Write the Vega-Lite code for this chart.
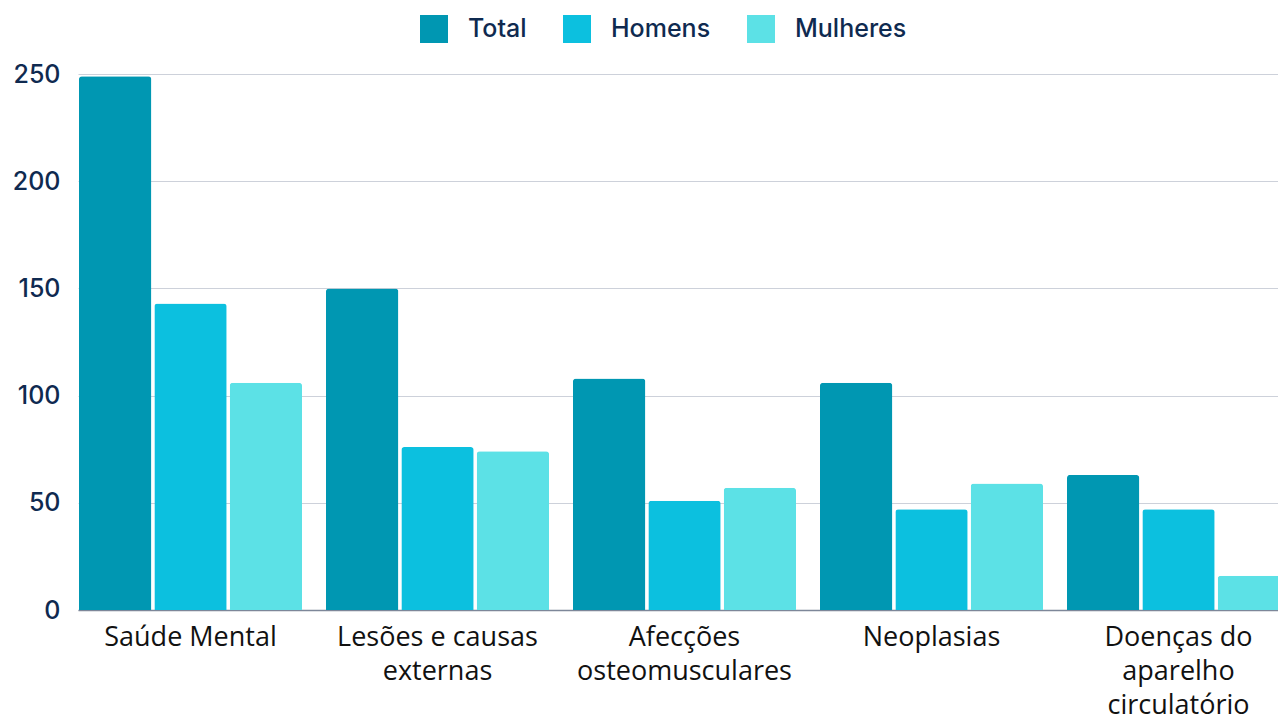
{
  "$schema": "https://vega.github.io/schema/vega-lite/v6.json",
  "autosize": {"type": "none"},
  "padding": {"left": 78, "top": 74, "right": 0, "bottom": 110},
  "width": 1213,
  "height": 536,
  "background": "#ffffff",
  "data": {
    "values": [
      {"categoria": "Saúde Mental", "grupo": "Total", "valor": 249},
      {"categoria": "Saúde Mental", "grupo": "Homens", "valor": 143},
      {"categoria": "Saúde Mental", "grupo": "Mulheres", "valor": 106},
      {"categoria": "Lesões e causas externas", "grupo": "Total", "valor": 150},
      {"categoria": "Lesões e causas externas", "grupo": "Homens", "valor": 76},
      {"categoria": "Lesões e causas externas", "grupo": "Mulheres", "valor": 74},
      {"categoria": "Afecções osteomusculares", "grupo": "Total", "valor": 108},
      {"categoria": "Afecções osteomusculares", "grupo": "Homens", "valor": 51},
      {"categoria": "Afecções osteomusculares", "grupo": "Mulheres", "valor": 57},
      {"categoria": "Neoplasias", "grupo": "Total", "valor": 106},
      {"categoria": "Neoplasias", "grupo": "Homens", "valor": 47},
      {"categoria": "Neoplasias", "grupo": "Mulheres", "valor": 59},
      {"categoria": "Doenças do aparelho circulatório", "grupo": "Total", "valor": 63},
      {"categoria": "Doenças do aparelho circulatório", "grupo": "Homens", "valor": 47},
      {"categoria": "Doenças do aparelho circulatório", "grupo": "Mulheres", "valor": 16}
    ]
  },
  "mark": {"type": "bar", "cornerRadiusTopLeft": 3, "cornerRadiusTopRight": 3},
  "encoding": {
    "x": {
      "field": "categoria",
      "type": "nominal",
      "sort": null,
      "scale": {"paddingInner": 0.097, "paddingOuter": 0.004},
      "axis": {
        "title": null,
        "labelAngle": 0,
        "ticks": false,
        "domain": true,
        "domainColor": "#7d8799",
        "domainWidth": 1.5,
        "labelFont": "Open Sans",
        "labelFontSize": 27,
        "labelColor": "#111111",
        "labelPadding": 14,
        "labelLineHeight": 34,
        "labelLimit": 400,
        "labelExpr": "datum.value == 'Lesões e causas externas' ? ['Lesões e causas', 'externas'] : datum.value == 'Afecções osteomusculares' ? ['Afecções', 'osteomusculares'] : datum.value == 'Doenças do aparelho circulatório' ? ['Doenças do', 'aparelho', 'circulatório'] : datum.value"
      }
    },
    "xOffset": {
      "field": "grupo",
      "type": "nominal",
      "sort": ["Total", "Homens", "Mulheres"],
      "scale": {"paddingInner": 0.04, "paddingOuter": 0}
    },
    "y": {
      "field": "valor",
      "type": "quantitative",
      "scale": {"domain": [0, 250]},
      "axis": {
        "title": null,
        "values": [0, 50, 100, 150, 200, 250],
        "ticks": false,
        "domain": false,
        "grid": true,
        "gridColor": "#cdd1da",
        "gridWidth": 1.2,
        "labelFont": "Inter",
        "labelFontWeight": 500,
        "labelFontSize": 25,
        "labelColor": "#0f2a50",
        "labelPadding": 18
      }
    },
    "color": {
      "field": "grupo",
      "type": "nominal",
      "sort": ["Total", "Homens", "Mulheres"],
      "scale": {
        "domain": ["Total", "Homens", "Mulheres"],
        "range": ["#0097b2", "#0cc0df", "#5ce1e6"]
      },
      "legend": {
        "title": null,
        "orient": "none",
        "direction": "horizontal",
        "legendX": 342,
        "legendY": -59,
        "symbolType": "square",
        "symbolSize": 784,
        "symbolStrokeWidth": 0,
        "symbolOpacity": 1,
        "labelFont": "Inter",
        "labelFontWeight": 500,
        "labelFontSize": 25,
        "labelColor": "#0f2a50",
        "labelOffset": 20,
        "columnPadding": 36
      }
    }
  },
  "config": {"view": {"stroke": null}}
}
